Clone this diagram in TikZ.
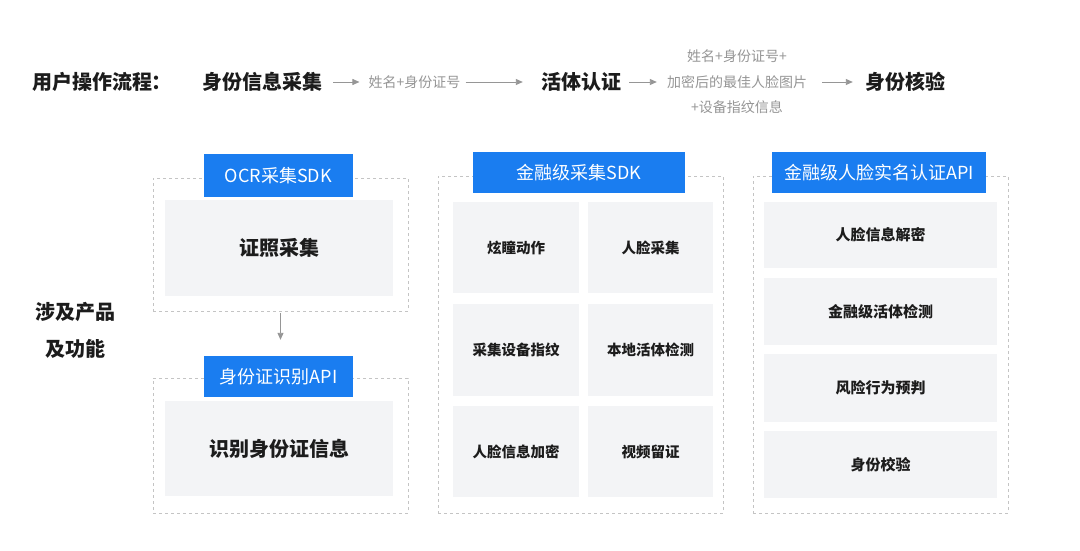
\documentclass[tikz,border=0pt]{standalone}
\usepackage{fontspec}
\setmainfont{Noto Sans CJK SC}
\usetikzlibrary{arrows.meta, positioning}
\definecolor{brand}{RGB}{26, 125, 240}
\definecolor{cellgray}{RGB}{243, 244, 246}
\definecolor{framegray}{RGB}{196, 196, 196}
\definecolor{textgray}{RGB}{150, 150, 150}
\definecolor{ink}{RGB}{28, 28, 28}

\tikzset{
    head/.style={text=ink, font=\bfseries\fontsize{20}{24}\selectfont, inner sep=0pt},
    note/.style={text=textgray, font=\fontsize{14}{25.5}\selectfont, inner sep=0pt, align=center},
    tag/.style={fill=brand, text=white, font=\fontsize{18}{22}\selectfont, inner sep=0pt},
    cell/.style={fill=cellgray, text=ink, font=\bfseries\fontsize{14.5}{18}\selectfont, inner sep=0pt},
    bigcell/.style={cell, font=\bfseries\fontsize{20}{24}\selectfont},
    frame/.style={draw=framegray, dash pattern=on 3pt off 3pt, line width=0.8pt, inner sep=0pt},
    flow/.style={-{Triangle[length=7pt, width=6pt]}, draw=textgray, line width=0.9pt},
}

\begin{document}
\begin{tikzpicture}[x=1pt, y=-1pt]
    \useasboundingbox[fill=white] (0, 0) rectangle (1080, 551);

    % Process row
    \node[head] (title) at (102, 82) {用户操作流程：};
    \node[head] (collect) at (262, 82) {身份信息采集};
    \node[note] (info1) at (414.5, 82) {姓名+身份证号};
    \node[head] (live) at (581, 82) {活体认证};
    \node[note] (info2) at (737, 82) {姓名+身份证号+\\加密后的最佳人脸图片\\+设备指纹信息};
    \node[head] (verify) at (905, 82) {身份核验};

    \draw[flow, shorten <=11pt, shorten >=9pt] (collect) -- (info1);
    \draw[flow, shorten <=5pt, shorten >=18pt] (info1) -- (live);
    \draw[flow, shorten <=8pt, shorten >=10pt] (live) -- (info2);
    \draw[flow, shorten <=15pt, shorten >=12pt] (info2) -- (verify);

    % Section label
    \node[head, align=center, font=\bfseries\fontsize{20}{37}\selectfont] (scope) at (75, 330) {涉及产品\\及功能};

    % Frames
    \node[frame, minimum width=255pt, minimum height=133pt] (frameOcr) at (280.5, 244.5) {};
    \node[frame, minimum width=255pt, minimum height=135pt] (frameId) at (280.5, 445.5) {};
    \node[frame, minimum width=285pt, minimum height=337pt] (frameSdk) at (580.5, 344.5) {};
    \node[frame, minimum width=255pt, minimum height=337pt] (frameApi) at (880.5, 344.5) {};

    % Left column
    \node[bigcell, minimum width=228pt, minimum height=96pt] (ocrCell) at (279, 248) {证照采集};
    \node[bigcell, minimum width=228pt, minimum height=95pt] (idCell) at (279, 448.5) {识别身份证信息};
    \node[tag, minimum width=149pt, minimum height=43pt] (tagOcr) at (278.5, 175.5) {OCR采集SDK};
    \node[tag, minimum width=149pt, minimum height=41pt] (tagId) at (278.5, 376.5) {身份证识别API};
    \draw[flow, shorten <=2pt, shorten >=16pt] (frameOcr.south) -- (frameOcr.south |- tagId.north);

    % Middle column
    \node[tag, minimum width=212pt, minimum height=41pt] (tagSdk) at (579, 172.5) {金融级采集SDK};
    \node[cell, minimum width=126pt, minimum height=91pt] (sdk1) at (516, 247.5) {炫瞳动作};
    \node[cell, minimum width=125pt, minimum height=91pt] (sdk2) at (650.5, 247.5) {人脸采集};
    \node[cell, minimum width=126pt, minimum height=92pt] (sdk3) at (516, 350) {采集设备指纹};
    \node[cell, minimum width=125pt, minimum height=92pt] (sdk4) at (650.5, 350) {本地活体检测};
    \node[cell, minimum width=126pt, minimum height=91pt] (sdk5) at (516, 451.5) {人脸信息加密};
    \node[cell, minimum width=125pt, minimum height=91pt] (sdk6) at (650.5, 451.5) {视频留证};

    % Right column
    \node[tag, minimum width=214pt, minimum height=41pt] (tagApi) at (879, 172.5) {金融级人脸实名认证API};
    \node[cell, font=\bfseries\fontsize{15}{18}\selectfont, minimum width=233pt, minimum height=66pt] (api1) at (880.5, 235) {人脸信息解密};
    \node[cell, font=\bfseries\fontsize{15}{18}\selectfont, minimum width=233pt, minimum height=67pt] (api2) at (880.5, 311.5) {金融级活体检测};
    \node[cell, font=\bfseries\fontsize{15}{18}\selectfont, minimum width=233pt, minimum height=68pt] (api3) at (880.5, 388) {风险行为预判};
    \node[cell, font=\bfseries\fontsize{15}{18}\selectfont, minimum width=233pt, minimum height=67pt] (api4) at (880.5, 464.5) {身份校验};
\end{tikzpicture}
\end{document}
